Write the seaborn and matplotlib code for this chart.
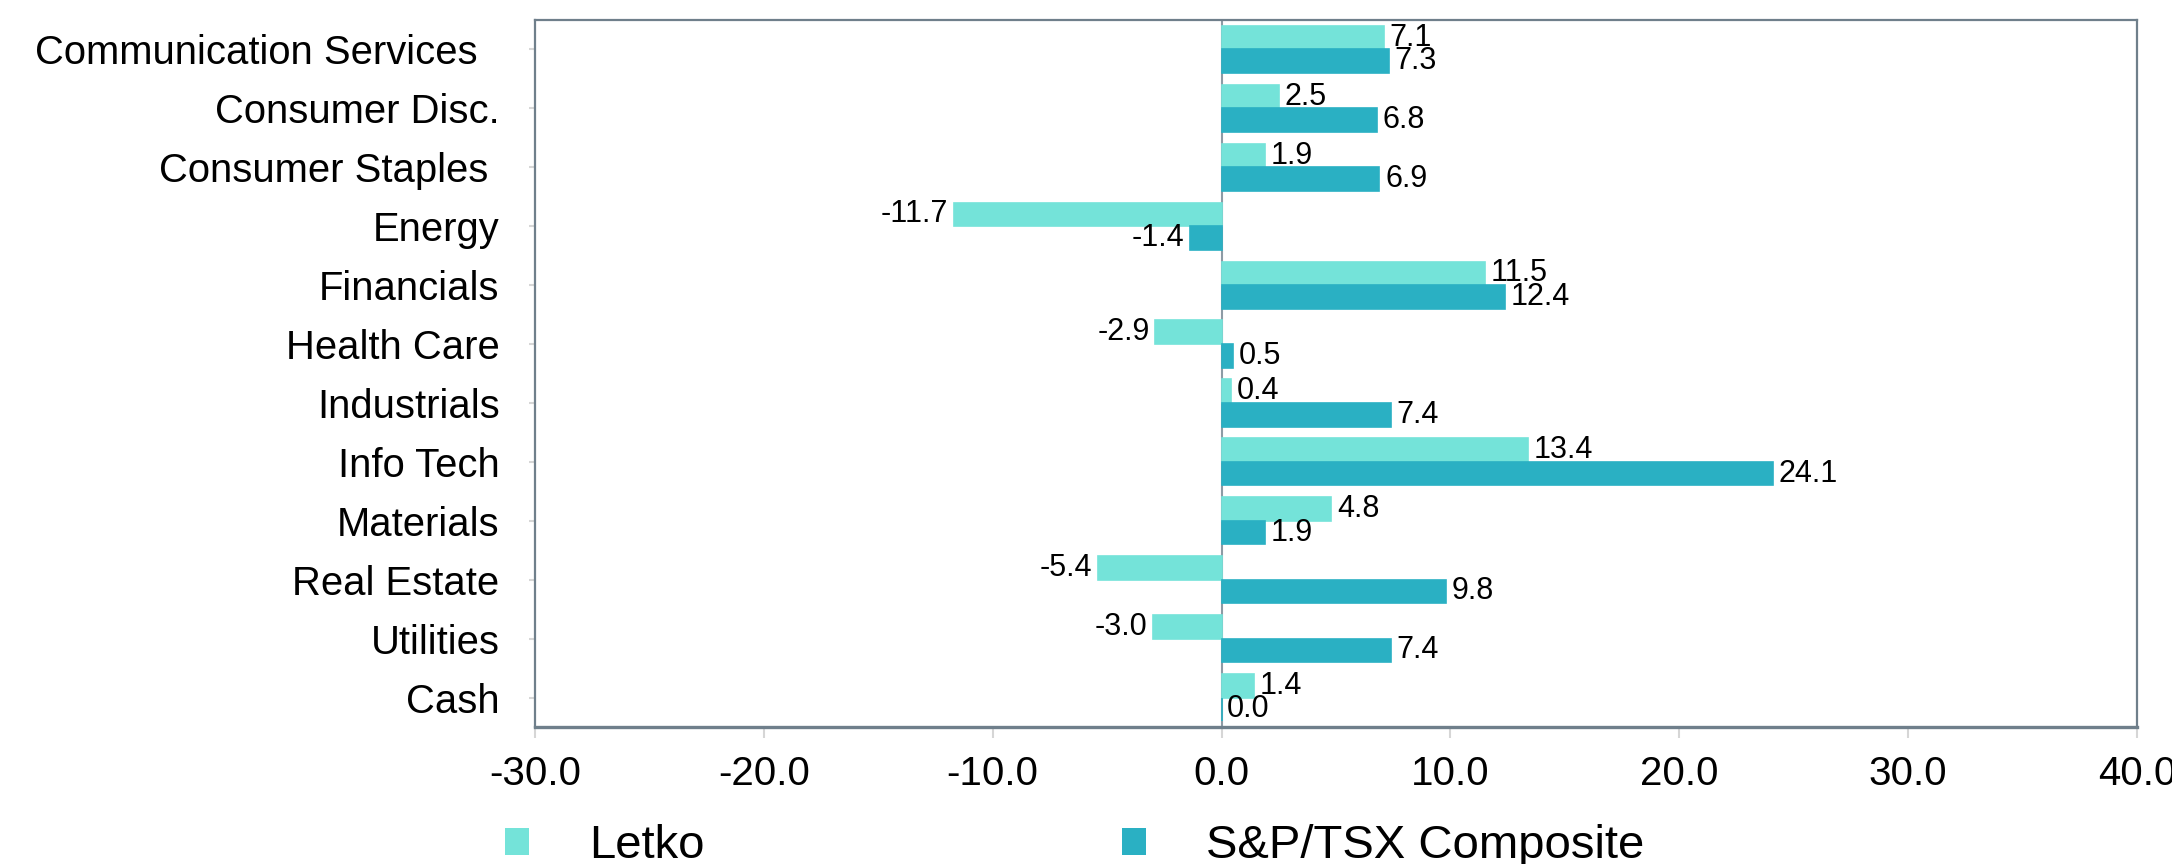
import matplotlib
matplotlib.use("Agg")
import matplotlib.pyplot as plt
import seaborn as sns
import pandas as pd
from matplotlib.patches import Patch
from matplotlib.ticker import FormatStrFormatter

sectors = ["Communication Services  ", "Consumer Disc.", "Consumer Staples ", "Energy",
           "Financials", "Health Care", "Industrials", "Info Tech", "Materials",
           "Real Estate", "Utilities", "Cash"]
letko = [7.1, 2.5, 1.9, -11.7, 11.5, -2.9, 0.4, 13.4, 4.8, -5.4, -3.0, 1.4]
tsx = [7.3, 6.8, 6.9, -1.4, 12.4, 0.5, 7.4, 24.1, 1.9, 9.8, 7.4, 0.0]
series = ["Letko", "S&P/TSX Composite"]
colors = ["#74E3D9", "#2AB0C3"]
xticks = [-30, -20, -10, 0, 10, 20, 30, 40]

df = pd.DataFrame({
    "Sector": sectors * 2,
    "Value": letko + tsx,
    "Series": [series[0]] * len(sectors) + [series[1]] * len(sectors),
})

plt.rcParams["font.family"] = ["Liberation Sans", "DejaVu Sans"]
plt.rcParams["axes.unicode_minus"] = False

fig = plt.figure(figsize=(21.72, 8.64), dpi=100)
ax = fig.add_axes([535 / 2172, 1 - 727 / 864, 1602 / 2172, 707 / 864])

sns.barplot(data=df, y="Sector", x="Value", hue="Series", hue_order=series,
            order=sectors, orient="h", palette=colors, width=0.8, saturation=1,
            legend=False, ax=ax, zorder=2)

for cont in ax.containers:
    for p in cont.patches:
        p.set_edgecolor(p.get_facecolor())
        p.set_linewidth(1.2)
    ax.bar_label(cont, fmt="%.1f", padding=4, fontsize=22, color="black")

ax.axvline(0, color="#8d9ba5", lw=1.5, zorder=1.5)

ax.set_xlim(xticks[0], xticks[-1])
ax.set_xticks(xticks)
ax.xaxis.set_major_formatter(FormatStrFormatter("%.1f"))
ax.set_xlabel("")
ax.set_ylabel("")

ax.tick_params(axis="x", length=8, width=1.5, color="#d6d6d6", pad=12, labelsize=29)
ax.tick_params(axis="y", length=4.5, width=1.5, color="#d6d6d6", pad=21, labelsize=28.8)

for s in ax.spines.values():
    s.set_color("#6f7f8b")
    s.set_linewidth(1.6)
ax.spines["bottom"].set_linewidth(2.4)

handles = [Patch(facecolor=c, edgecolor="none") for c in colors]
fig.legend(handles, series, loc="center left", bbox_to_anchor=(505 / 2172, 1 - 846 / 864),
           ncol=2, frameon=False, fontsize=34, handlelength=0.508, handleheight=0.508,
           handletextpad=1.27, columnspacing=8.85, borderpad=0, borderaxespad=0)

fig.savefig("out.png", dpi=100)
